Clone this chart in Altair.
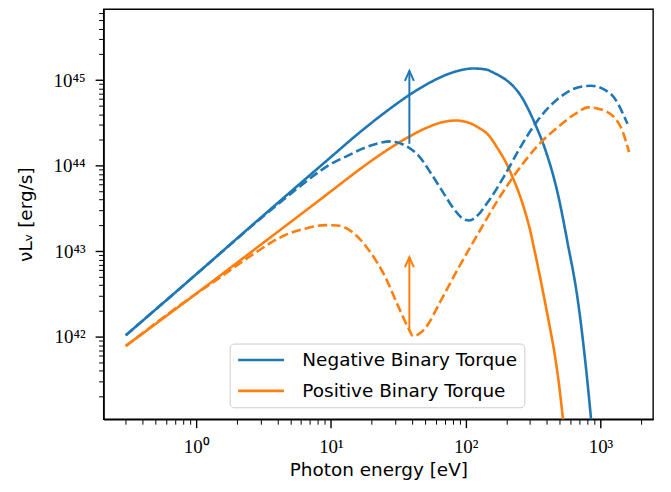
import altair as alt
import pandas as pd

NEG = "Negative Binary Torque"
POS = "Positive Binary Torque"

# Photon energy [eV] and nu L_nu [erg/s]
neg_solid_x = [0.3, 1.0, 3.16, 10.0, 15.8, 25.1, 38.2, 52.7, 74.1, 89.1, 113.5, 141, 164, 200, 231, 263, 289, 331,
               384, 482, 571, 678, 759, 849, 900]
neg_solid_y = [1.04e42, 5.37e42, 2.63e43, 1.26e44, 2.34e44, 4.17e44, 6.70e44, 9.12e44, 1.175e45, 1.29e45, 1.365e45,
               1.33e45, 1.20e45, 1.0e45, 8.13e44, 6.17e44, 4.68e44, 2.95e44, 1.64e44, 4.72e43, 1.24e43, 2.72e42,
               6.5e41, 1.14e41, 4.0e40]

pos_solid_x = [0.3, 1.0, 3.16, 10.0, 15.8, 25.1, 38.2, 52.7, 66.1, 78.3, 86, 93.3, 110, 126, 147, 173, 200, 218, 251,
               273.5, 299, 324, 353, 385, 419, 456, 490, 525, 562]
pos_solid_y = [7.8e41, 3.19e42, 1.26e43, 5.01e43, 8.71e43, 1.46e44, 2.19e44, 2.82e44, 3.20e44, 3.35e44, 3.37e44,
               3.32e44, 3.09e44, 2.75e44, 2.29e44, 1.58e44, 1.07e44, 7.94e43, 4.57e43, 3.02e43, 1.82e43, 1.02e43,
               5.37e42, 2.69e42, 1.35e42, 6.46e41, 2.95e41, 1.15e41, 4.0e40]

neg_dash_x = [0.3, 1.0, 3.0, 5.7, 8.0, 9.62, 13.5, 17.8, 22.5, 28.2, 35.5, 44.5, 55.8, 70, 83, 98.4, 107, 116.7,
              146.6, 194.5, 251, 315, 343, 482, 678, 849, 1194, 1585]
neg_dash_y = [1.04e42, 5.37e42, 2.40e43, 5.5e43, 8.3e43, 1.01e44, 1.32e44, 1.62e44, 1.83e44, 1.92e44, 1.72e44,
              1.32e44, 7.94e43, 4.52e43, 3.02e43, 2.34e43, 2.29e43, 2.45e43, 3.78e43, 7.71e43, 1.58e44, 2.81e44,
              3.39e44, 6.01e44, 8.20e44, 8.59e44, 6.87e44, 3.08e44]

pos_dash_x = [0.3, 1.0, 1.48, 2.6, 4.6, 6.6, 9.1, 11.2, 14.3, 19, 25.2, 31.6, 37.5, 40.8, 44.5, 49.8, 66, 88, 110, 124,
              173, 244, 343, 482, 678, 804, 1067, 1416, 1630]
pos_dash_y = [7.8e41, 3.19e42, 4.85e42, 9.06e42, 1.55e43, 1.86e43, 2.02e43, 2.0e43, 1.69e43, 1.04e43, 5.07e42,
              2.27e42, 1.27e42, 1.02e42, 1.07e42, 1.25e42, 2.72e42, 6.31e42, 1.17e43, 1.62e43, 3.95e43, 8.81e43,
              1.72e44, 2.81e44, 4.20e44, 4.80e44, 4.40e44, 2.81e44, 1.44e44]

arrow_series = [NEG, POS]
arrow_x = [38.2, 38.2]
arrow_y0 = [1.8e44, 1.16e42]
arrow_y1 = [1.28e45, 8.5e42]

x_major = [1, 10, 100, 1000]
x_minor = [0.3, 0.4, 0.5, 0.6, 0.7, 0.8, 0.9, 2, 3, 4, 5, 6, 7, 8, 9, 20, 30, 40, 50, 60, 70, 80, 90,
           200, 300, 400, 500, 600, 700, 800, 900, 2000]
y_major = [1e42, 1e43, 1e44, 1e45]
y_minor = [m * 10.0 ** e for e in range(41, 46) for m in range(2, 10) if m * 10.0 ** e < 6.7e45]

x_dom = [0.2056, 2455]
y_dom = [1.09e41, 6.75e45]

rows = []
for s, k, xs_, ys_ in [(NEG, "solid", neg_solid_x, neg_solid_y), (POS, "solid", pos_solid_x, pos_solid_y),
                       (NEG, "dashed", neg_dash_x, neg_dash_y), (POS, "dashed", pos_dash_x, pos_dash_y)]:
    for i, (a, b) in enumerate(zip(xs_, ys_)):
        rows.append({"series": s, "kind": k, "curve": s + k, "order": i, "x": a, "y": b})
df = pd.DataFrame(rows)
arrows = pd.DataFrame({"series": arrow_series, "x": arrow_x, "y0": arrow_y0, "y1": arrow_y1})

cscale = alt.Scale(domain=[NEG, POS], range=["#1f77b4", "#ff7f0e"])
xs = alt.Scale(type="log", domain=x_dom, nice=False)
ys = alt.Scale(type="log", domain=y_dom, nice=False)

x_lab = "'10' + ['⁰','¹','²','³'][round(log(datum.value)/LN10)]"
y_lab = "'10' + ['⁴²','⁴³','⁴⁴','⁴⁵'][round(log(datum.value)/LN10) - 42]"

lines = alt.Chart(df).mark_line(strokeWidth=2.6, clip=True, interpolate="monotone").encode(
    x=alt.X("x:Q", scale=xs, axis=alt.Axis(values=x_major, labelExpr=x_lab, tickSize=8.5, orient="bottom",
                                           title="Photon energy [eV]", labelFont="Liberation Serif",
                                           labelFontSize=19, labelPadding=10, titlePadding=4)),
    y=alt.Y("y:Q", scale=ys, axis=alt.Axis(values=y_major, labelExpr=y_lab, tickSize=8.5, orient="left",
                                           title="νLᵥ  [erg/s]", labelFont="Liberation Serif",
                                           labelFontSize=19, labelPadding=10, titlePadding=18)),
    color=alt.Color("series:N", scale=cscale, legend=alt.Legend(title=None)),
    strokeDash=alt.StrokeDash("kind:N", scale=alt.Scale(domain=["solid", "dashed"], range=[[1, 0], [9.5, 4]]),
                              legend=None),
    detail="curve:N",
    order="order:Q",
)

shaft = alt.Chart(arrows).mark_rule(strokeWidth=2.0).encode(
    x=alt.X("x:Q", scale=xs, axis=alt.Axis(values=x_minor, labels=False, tickSize=5, tickWidth=1.0,
                                           orient="bottom", title=None, domain=False)),
    y=alt.Y("y0:Q", scale=ys, axis=alt.Axis(values=y_minor, labels=False, tickSize=5, tickWidth=1.0,
                                            orient="left", title=None, domain=False)),
    y2="y1:Q",
    color=alt.Color("series:N", scale=cscale, legend=None),
)

head = alt.Chart(arrows).mark_point(shape="M-0.45,1L0,0L0.45,1", size=400, filled=False, strokeWidth=2.0,
                                    opacity=1).encode(
    x=alt.X("x:Q", scale=xs, axis=None),
    y=alt.Y("y1:Q", scale=ys, axis=None),
    color=alt.Color("series:N", scale=cscale, legend=None),
)

chart = alt.layer(lines, shaft, head).resolve_axis(x="independent", y="independent").properties(
    width=552, height=412,
    autosize=alt.AutoSizeParams(type="none"),
    padding={"left": 96, "top": 0, "right": 10, "bottom": 64},
).configure_view(stroke="black", strokeWidth=1.4).configure_axis(
    domainColor="black", domainWidth=1.4, tickColor="black", tickWidth=1.4, grid=False,
    labelColor="black", titleColor="black", titleFont="DejaVu Sans", titleFontSize=18.5, titleFontWeight="normal",
).configure_legend(
    orient="none", legendX=126.7, legendY=336, padding=7, strokeColor="#cccccc", cornerRadius=4,
    fillColor="white", symbolType="M-1,0L4.75,0", symbolStrokeWidth=2.6, symbolSize=256,
    labelFont="DejaVu Sans", labelFontSize=18.5, labelColor="black", labelOffset=47, rowPadding=12,
    labelLimit=0,
)

chart.save("out.html", embed_options={"renderer": "svg", "actions": False})
